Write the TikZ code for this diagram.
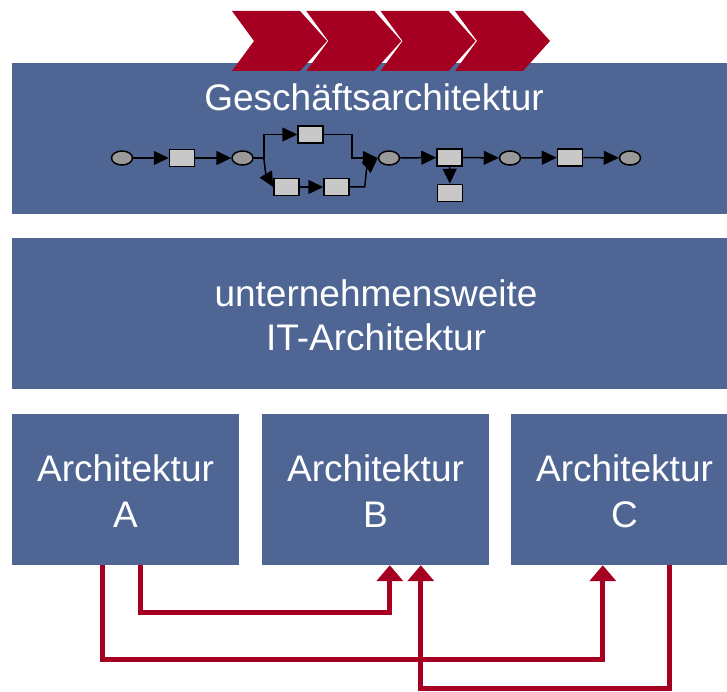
\documentclass[tikz,border=0pt]{standalone}
\usepackage{fontspec}
\setmainfont{Liberation Sans}
\usetikzlibrary{arrows.meta,shapes.geometric,calc}
\definecolor{boxblue}{RGB}{79,102,149}
\definecolor{darkred}{RGB}{165,0,33}
\definecolor{evgray}{RGB}{153,153,153}
\definecolor{fngray}{RGB}{200,200,200}
\tikzset{
  bluebox/.style={fill=boxblue, draw=none, inner sep=0pt, minimum height=151pt},
  lbl/.style={text=white, font=\fontsize{37}{44}\selectfont, inner sep=0pt, anchor=base},
  event/.style={ellipse, draw=black, line width=1.5pt, fill=evgray, minimum width=21pt, minimum height=14pt, inner sep=0pt},
  func/.style={rectangle, draw=black, line width=1.5pt, fill=fngray, minimum width=25pt, minimum height=17pt, inner sep=0pt},
  flow/.style={draw=black, line width=1.5pt, -{Triangle[length=15pt,width=14pt]}},
  redconn/.style={draw=darkred, line width=4.7pt, -{Triangle[length=16pt,width=26pt]}},
  chev/.style={fill=darkred, draw=none}
}
\begin{document}
\begin{tikzpicture}[x=1pt,y=-1pt]
\useasboundingbox (0,0) rectangle (727,692);
\clip (0,0) rectangle (727,692);
% boxes
\node[bluebox, minimum width=728pt] (top) at (376,138.5) {};
\node[bluebox, minimum width=728pt] (mid) at (376,313.5) {};
\node[bluebox, minimum width=227pt] (boxA) at (125.5,489.5) {};
\node[bluebox, minimum width=227pt] (boxB) at (375.5,489.5) {};
\node[bluebox, minimum width=227pt] (boxC) at (624.5,489.5) {};
% chevrons
\foreach \x in {232,306.3,380.6,455}{
  \fill[chev] (\x,11) -- (\x+68,11) -- (\x+95,41) -- (\x+68,71) -- (\x,71) -- (\x+22,41) -- cycle;
}
% texts
\node[lbl] (t1) at (374,111) {Geschäftsarchitektur};
\node[lbl] (t2) at (376,306) {unternehmensweite};
\node[lbl] (t3) at (376,350) {IT-Architektur};
\node[lbl] (tA1) at (125.5,481) {Architektur};
\node[lbl] (tA2) at (125.5,527) {A};
\node[lbl] (tB1) at (375.5,481) {Architektur};
\node[lbl] (tB2) at (375.5,527) {B};
\node[lbl] (tC1) at (624.5,481) {Architektur};
\node[lbl] (tC2) at (624.5,527) {C};
% process flow
\node[event] (e1) at (122,158) {};
\node[func] (f1) at (182,158) {};
\node[event] (e2) at (242.5,158) {};
\node[func] (f2) at (310.5,134.5) {};
\node[func] (f3) at (286.5,187) {};
\node[func] (f4) at (336.5,187) {};
\node[event] (e3) at (389,158) {};
\node[func] (f5) at (449.5,157.5) {};
\node[func] (f6) at (450,193) {};
\node[event] (e4) at (510,158) {};
\node[func] (f7) at (570,157.5) {};
\node[event] (e5) at (630,158) {};
\draw[flow] (e1) -- (f1);
\draw[flow] (f1) -- (e2);
\draw[flow] (e2.east) -- ++(10,0) |- (f2.west);
\draw[flow] ($(e2.east)+(10,0)$) -- ++(2,16) -- (f3.west);
\draw[flow] (f3) -- (f4);
\draw[flow] (f2.east) -- ++(28,0) |- (e3.west);
\draw[flow] (f4.east) -- ++(15,0) -- ++(2,-20) -- (e3.west);
\draw[flow] (e3) -- (f5);
\draw[flow] (f5) -- (f6);
\draw[flow] (f5) -- (e4);
\draw[flow] (e4) -- (f7);
\draw[flow] (f7) -- (e5);
% red connectors
\draw[redconn] ($(boxA.south west)+(129,0)$) -- ++(0,47.5) -| ($(boxB.south west)+(128,0)$);
\draw[redconn] ($(boxA.south west)+(91,0)$) -- ++(0,94) -| ($(boxC.south west)+(92,0)$);
\draw[redconn] ($(boxC.south west)+(159,0)$) -- ++(0,123) -| ($(boxB.south west)+(159,0)$);
\end{tikzpicture}
\end{document}
